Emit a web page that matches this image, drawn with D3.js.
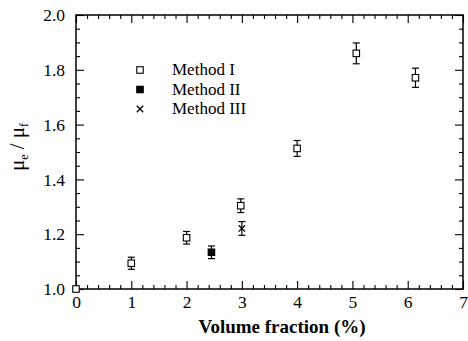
<!DOCTYPE html>
<html>
<head>
<meta charset="utf-8">
<script src="https://cdn.jsdelivr.net/npm/d3@7"></script>
<style>
  body { margin: 0; background: #fff; }
  svg text { font-family: "Liberation Serif", "DejaVu Serif", serif; fill: #000; }
</style>
</head>
<body>
<div id="chart"></div>
<script>
// data
var methodI_x = [0, 1, 2, 2.98, 4, 5.07, 6.14];
var methodI_y = [1.0, 1.094, 1.187, 1.304, 1.513, 1.860, 1.771];
var methodI_err = [0, 0.022, 0.023, 0.025, 0.029, 0.038, 0.035];

var methodII_x = [2.45];
var methodII_y = [1.134];
var methodII_err = [0.023];

var methodIII_x = [3.0];
var methodIII_y = [1.221];
var methodIII_err = [0.025];

var legendLabels = ["Method I", "Method II", "Method III"];
var xTicks = [0, 1, 2, 3, 4, 5, 6, 7];
var yTicks = [1.0, 1.2, 1.4, 1.6, 1.8, 2.0];

var svgWidth = 468;
var svgHeight = 341;
var margin = { top: 15, right: 5, bottom: 52, left: 76 };
var width = svgWidth - margin.left - margin.right;
var height = svgHeight - margin.top - margin.bottom;

var svg = d3.select("#chart")
    .append("svg")
    .attr("width", svgWidth)
    .attr("height", svgHeight);

var chartGroup = svg.append("g")
    .attr("transform", `translate(${margin.left}, ${margin.top})`);

var x = d3.scaleLinear().domain([0, 7]).range([0, width]);
var y = d3.scaleLinear().domain([1, 2]).range([height, 0]);

var xMinor = d3.range(0, 7.001, 0.2).filter(v => Math.abs(v - Math.round(v)) > 0.01);
var yMinor = d3.range(1, 2.001, 0.05).filter(v => Math.abs(v * 5 - Math.round(v * 5)) > 0.01);

function styleAxis(g) {
  g.attr("font-family", null).attr("font-size", null);
  g.select(".domain").remove();
  g.selectAll("line").attr("stroke", "#000").attr("stroke-width", 1.1);
  g.selectAll("text")
    .attr("font-family", "'Liberation Serif', serif")
    .attr("font-size", 17.5)
    .attr("fill", "#000");
}

// bottom axis
chartGroup.append("g")
  .attr("transform", `translate(0, ${height})`)
  .call(d3.axisBottom(x).tickValues(xTicks).tickFormat(d3.format("d")).tickSize(-8).tickPadding(7))
  .call(styleAxis);
chartGroup.append("g")
  .attr("transform", `translate(0, ${height})`)
  .call(d3.axisBottom(x).tickValues(xMinor).tickFormat("").tickSize(-4))
  .call(styleAxis);

// top axis
chartGroup.append("g")
  .call(d3.axisTop(x).tickValues(xTicks).tickFormat("").tickSize(-8))
  .call(styleAxis);
chartGroup.append("g")
  .call(d3.axisTop(x).tickValues(xMinor).tickFormat("").tickSize(-4))
  .call(styleAxis);

// left axis
chartGroup.append("g")
  .call(d3.axisLeft(y).tickValues(yTicks).tickFormat(d3.format(".1f")).tickSize(-8).tickPadding(11))
  .call(styleAxis);
chartGroup.append("g")
  .call(d3.axisLeft(y).tickValues(yMinor).tickFormat("").tickSize(-4))
  .call(styleAxis);

// right axis
chartGroup.append("g")
  .attr("transform", `translate(${width}, 0)`)
  .call(d3.axisRight(y).tickValues(yTicks).tickFormat("").tickSize(-8))
  .call(styleAxis);
chartGroup.append("g")
  .attr("transform", `translate(${width}, 0)`)
  .call(d3.axisRight(y).tickValues(yMinor).tickFormat("").tickSize(-4))
  .call(styleAxis);

// frame
chartGroup.append("rect")
  .attr("width", width)
  .attr("height", height)
  .attr("fill", "none")
  .attr("stroke", "#000")
  .attr("stroke-width", 1.5);

// build point lists
var methodI = methodI_x.map((v, i) => ({ x: v, y: methodI_y[i], e: methodI_err[i], kind: "open" }));
var methodII = methodII_x.map((v, i) => ({ x: v, y: methodII_y[i], e: methodII_err[i], kind: "filled" }));
var methodIII = methodIII_x.map((v, i) => ({ x: v, y: methodIII_y[i], e: methodIII_err[i], kind: "cross" }));
var allPoints = methodI.concat(methodII, methodIII);

// error bars
var capW = 3.5;
var errGroup = chartGroup.append("g").attr("stroke", "#000").attr("stroke-width", 1.2);
allPoints.filter(d => d.e > 0).forEach(function(d) {
  var cx = x(d.x), y0 = y(d.y - d.e), y1 = y(d.y + d.e);
  errGroup.append("line").attr("x1", cx).attr("x2", cx).attr("y1", y0).attr("y2", y1);
  errGroup.append("line").attr("x1", cx - capW).attr("x2", cx + capW).attr("y1", y0).attr("y2", y0);
  errGroup.append("line").attr("x1", cx - capW).attr("x2", cx + capW).attr("y1", y1).attr("y2", y1);
});

// markers
function drawMarker(g, kind, cx, cy) {
  var s = 6.5;
  if (kind === "cross") {
    var c = 3.2;
    g.append("path")
      .attr("d", `M${cx - c},${cy - c}L${cx + c},${cy + c}M${cx - c},${cy + c}L${cx + c},${cy - c}`)
      .attr("stroke", "#000")
      .attr("stroke-width", 1.3);
  } else {
    g.append("rect")
      .attr("x", cx - s / 2)
      .attr("y", cy - s / 2)
      .attr("width", s)
      .attr("height", s)
      .attr("fill", kind === "filled" ? "#000" : "#fff")
      .attr("stroke", "#000")
      .attr("stroke-width", 1.1);
  }
}

var markGroup = chartGroup.append("g");
allPoints.forEach(d => drawMarker(markGroup, d.kind, x(d.x), y(d.y)));

// legend
var legendKinds = ["open", "filled", "cross"];
var legend = svg.append("g");
legendLabels.forEach(function(label, i) {
  var ly = 70 + i * 19.5;
  drawMarker(legend, legendKinds[i], 140, ly);
  legend.append("text")
    .attr("x", 172)
    .attr("y", ly + 5)
    .style("font-size", "17px")
    .text(label);
});

// axis labels
svg.append("text")
  .attr("x", 282)
  .attr("y", 333)
  .attr("text-anchor", "middle")
  .style("font-size", "19px")
  .style("font-weight", "bold")
  .text("Volume fraction (%)");

var yLabel = svg.append("text")
  .attr("transform", "translate(24, 147) rotate(-90)")
  .attr("text-anchor", "middle")
  .style("font-size", "21px");
yLabel.append("tspan").text("\u03bc");
yLabel.append("tspan").attr("dy", 4).style("font-size", "12px").text("e");
yLabel.append("tspan").attr("dy", -4).text(" / \u03bc");
yLabel.append("tspan").attr("dy", 4).style("font-size", "12px").text("f");
</script>
</body>
</html>
